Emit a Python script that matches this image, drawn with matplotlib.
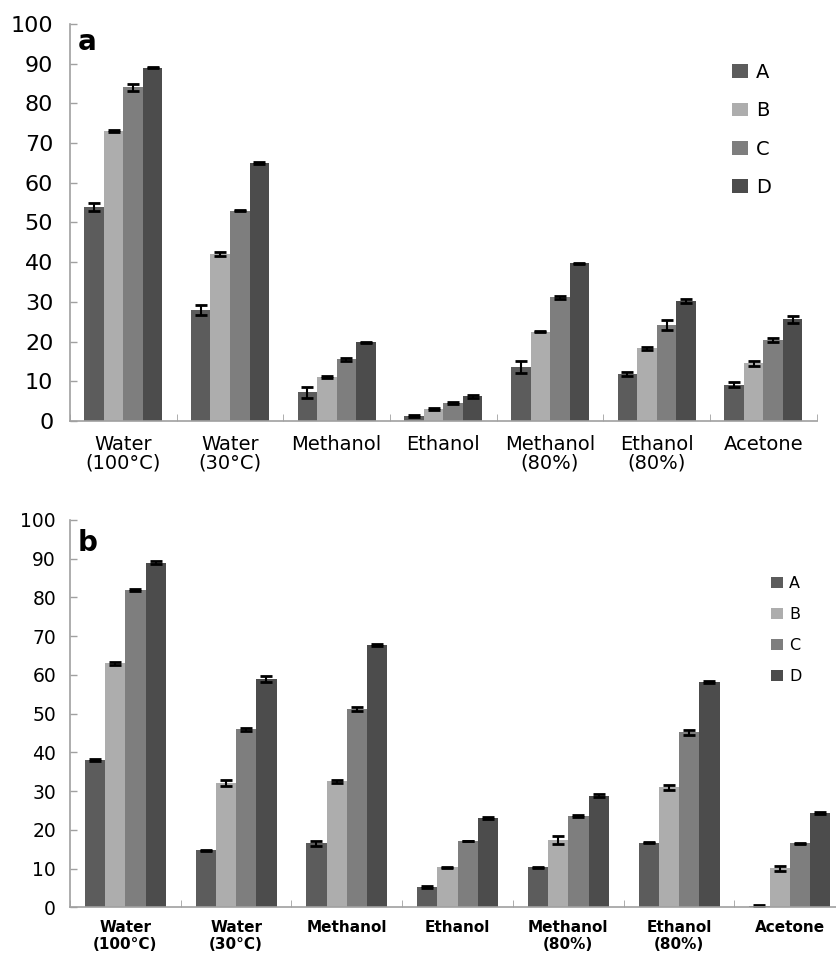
import matplotlib
matplotlib.use("Agg")
import matplotlib.pyplot as plt
import numpy as np
from matplotlib.patches import Patch

categories = ["Water\n(100°C)", "Water\n(30°C)", "Methanol", "Ethanol",
              "Methanol\n(80%)", "Ethanol\n(80%)", "Acetone"]
series = ["A", "B", "C", "D"]
colors = ["#5c5c5c", "#adadad", "#7e7e7e", "#4c4c4c"]

# Panel a
a_A = [53.8, 28.0, 7.2, 1.2, 13.7, 11.8, 9.1]
a_B = [73.0, 42.0, 11.0, 3.0, 22.5, 18.3, 14.5]
a_C = [84.0, 53.0, 15.5, 4.5, 31.1, 24.2, 20.4]
a_D = [89.0, 65.0, 19.8, 6.2, 39.7, 30.2, 25.6]
a_errA = [1.0, 1.2, 1.3, 0.2, 1.5, 0.5, 0.6]
a_errB = [0.3, 0.5, 0.3, 0.2, 0.2, 0.4, 0.6]
a_errC = [0.8, 0.2, 0.3, 0.2, 0.3, 1.2, 0.4]
a_errD = [0.2, 0.3, 0.2, 0.3, 0.2, 0.4, 0.8]

# Panel b
b_A = [38.0, 14.7, 16.5, 5.3, 10.3, 16.7, 0.3]
b_B = [63.0, 32.0, 32.5, 10.3, 17.4, 31.0, 10.1]
b_C = [82.0, 46.0, 51.2, 17.2, 23.6, 45.2, 16.5]
b_D = [89.0, 59.0, 67.7, 23.0, 28.8, 58.1, 24.3]
b_errA = [0.2, 0.2, 0.6, 0.2, 0.2, 0.2, 0.2]
b_errB = [0.4, 0.8, 0.5, 0.2, 1.1, 0.6, 0.7]
b_errC = [0.3, 0.4, 0.4, 0.0, 0.3, 0.6, 0.2]
b_errD = [0.3, 0.8, 0.3, 0.2, 0.4, 0.3, 0.2]

yticks = list(range(0, 101, 10))

plt.rcParams['font.family'] = ['DejaVu Sans']

fig = plt.figure(figsize=(8.36, 9.55), dpi=100)
axA = fig.add_axes([0.0837, 0.5592, 0.977 - 0.0837, 0.9749 - 0.5592])
axB = fig.add_axes([0.0837, 0.0499, 1.011 - 0.0837, 0.4555 - 0.0499])

def draw(ax, vals, errs, tick_fs, ypad, cat_fs, cat_ls, letter, letter_y,
         leg_fs, leg_anchor, labsp, hl, hh, catbold, xpad):
    n = len(categories)
    x = np.arange(n) + 0.5
    w = 0.183
    offs = (np.arange(4) - 1.5) * w
    for i in range(4):
        ax.bar(x + offs[i], vals[i], width=w, color=colors[i],
               yerr=errs[i], capsize=4.5,
               error_kw=dict(ecolor="black", elinewidth=1.5, capthick=2.0),
               zorder=2)
    ax.set_xlim(0, n)
    ax.set_ylim(0, 100)
    ax.set_yticks(yticks)
    ax.set_yticklabels([str(t) for t in yticks], fontsize=tick_fs)
    ax.set_xticks(x)
    ax.set_xticklabels(categories, fontsize=cat_fs,
                       fontweight="bold" if catbold else "normal",
                       linespacing=cat_ls)
    ax.set_xticks(np.arange(n + 1), minor=True)
    ax.tick_params(axis="x", which="major", length=0, pad=xpad)
    ax.tick_params(axis="x", which="minor", length=5, color="#a0a0a0", direction="in")
    ax.tick_params(axis="y", length=5, color="#a0a0a0", width=1, direction="in",
                   pad=ypad)
    for s in ["top", "right"]:
        ax.spines[s].set_visible(False)
    for s in ["left", "bottom"]:
        ax.spines[s].set_color("#a0a0a0")
        ax.spines[s].set_linewidth(1.2)
    ax.text(0.07, letter_y, letter, fontsize=20, fontweight="bold",
            va="center", ha="left")
    handles = [Patch(facecolor=c, edgecolor="none") for c in colors]
    ax.legend(handles, series, loc="upper left", bbox_to_anchor=leg_anchor,
              bbox_transform=fig.transFigure, frameon=False,
              fontsize=leg_fs, handlelength=hl, handleheight=hh,
              handletextpad=0.4, labelspacing=labsp, borderpad=0)

draw(axA, [a_A, a_B, a_C, a_D], [a_errA, a_errB, a_errC, a_errD],
     16, 12, 14, 0.95, "a", 95.5, 14, (0.8635, 1 - 53 / 955), 1.0, 0.85, 0.7,
     False, 10)
draw(axB, [b_A, b_B, b_C, b_D], [b_errA, b_errB, b_errC, b_errD],
     13.5, 10, 11, 1.15, "b", 94.0, 11.5, (0.9124, 1 - 568 / 955), 1.0, 0.75, 0.65,
     True, 9)

fig.savefig("out.png", dpi=100)
